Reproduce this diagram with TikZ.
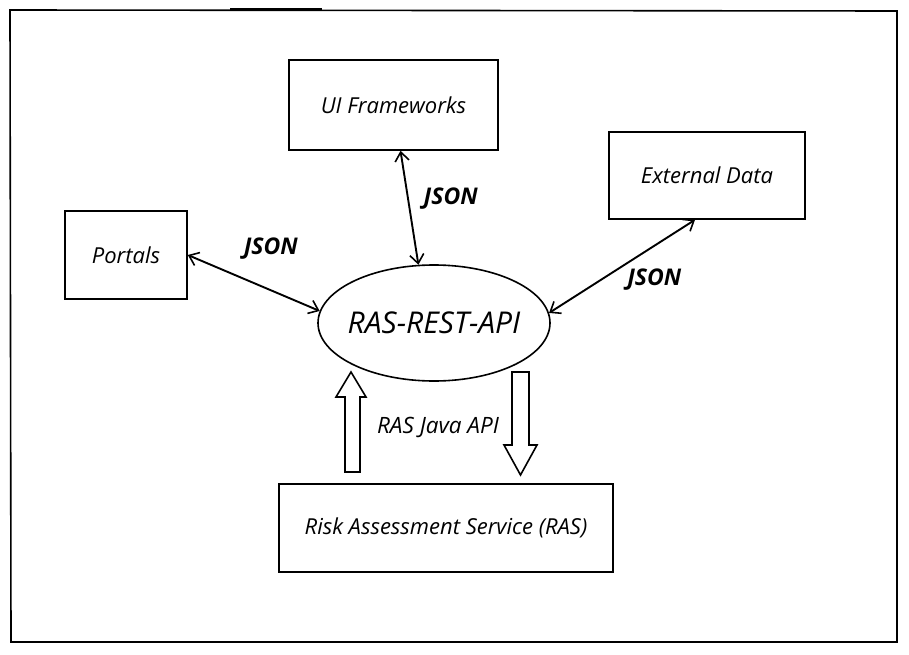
\documentclass[tikz,border=0pt]{standalone}
\usepackage{fontspec}
\setmainfont{Open Sans}
\usetikzlibrary{arrows.meta, shapes.geometric}
\begin{document}
\begin{tikzpicture}[x=1pt, y=-1pt, line width=1.6pt,
  box/.style={draw, inner sep=0pt, font=\itshape\fontsize{22}{26}\selectfont},
  json/.style={font=\bfseries\itshape\fontsize{23}{27}\selectfont},
  link/.style={<->, line width=1.9pt},
  >={Straight Barb[length=9pt, width=14pt, line width=1.6pt]}]
\useasboundingbox (0,0) rectangle (909,655);
% frame
\draw (10,10) -- (897,11) -- (897,642) -- (11,642) -- cycle;
\draw[line width=2.6pt] (230,9.5) -- (322,9.5);
% boxes
\node[box, minimum width=209pt, minimum height=90pt] (UI) at (393.5,105) {UI Frameworks};
\node[box, minimum width=122pt, minimum height=88pt] (Portals) at (126,255) {Portals};
\node[box, minimum width=196pt, minimum height=87pt] (Ext) at (707,175.5) {External Data};
\node[box, minimum width=334pt, minimum height=88pt] (RAS) at (446,528) {Risk Assessment Service (RAS)};
\node[draw, ellipse, inner xsep=-5pt, inner ysep=0pt, minimum width=232pt, minimum height=116pt,
  font=\itshape\fontsize{30}{34}\selectfont] (API) at (434,323) {RAS-REST-API};
% JSON links
\draw[link] (Portals.east) -- (API.174) node[midway, json, above=19pt, xshift=17pt] {JSON};
\draw[link] ([xshift=7pt]UI.south) -- (API.105) node[midway, json, right=10pt, yshift=9pt] {JSON};
\draw[link] ([xshift=-12pt]Ext.south) -- (API.5) node[midway, json, right=1pt, yshift=-13pt] {JSON};
% Java API
\draw[line join=miter] (351,372) -- (366,397) -- (360,397) -- (360,472) -- (345,472) -- (345,397) -- (336,397) -- cycle;
\draw[line join=miter] (512,372) -- (529,372) -- (529,445) -- (537,445) -- (520.5,475) -- (504,445) -- (512,445) -- cycle;
\node[font=\itshape\fontsize{22.5}{26}\selectfont] (java) at (438,427) {RAS Java API};
\end{tikzpicture}
\end{document}
